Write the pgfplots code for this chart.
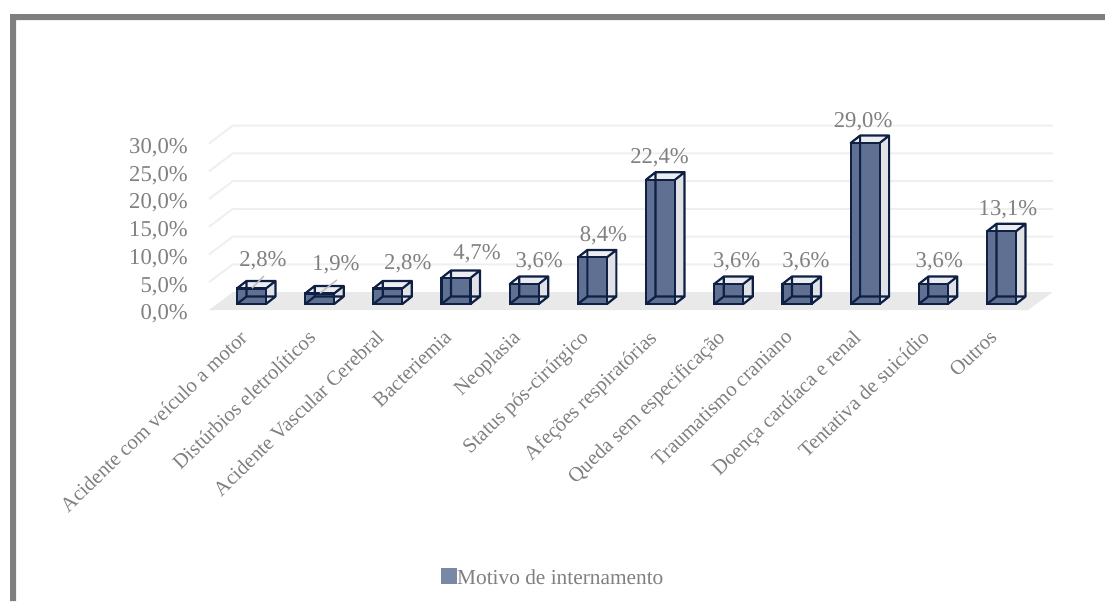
\documentclass[border=0pt]{standalone}
\usepackage{fontspec}
\setmainfont{Liberation Serif}
\usepackage{pgfplots}
\usepackage{pgfplotstable}
\pgfplotsset{compat=1.18}

\newlength{\px}
\setlength{\px}{0.75pt}

\definecolor{framegray}{HTML}{7F7F7F}
\definecolor{lblgray}{HTML}{808080}
\definecolor{gridgray}{HTML}{EFEFEF}
\definecolor{floorgray}{HTML}{E9E9E9}
\definecolor{barface}{HTML}{5F7092}
\definecolor{barside}{HTML}{E0E2E6}
\definecolor{bartop}{HTML}{ECEDF1}
\definecolor{baredge}{HTML}{0F2045}
\definecolor{swatch}{HTML}{7A88A8}
\definecolor{leader}{HTML}{BFBFBF}

% i: category, v: percentage, dx/dy: label offset from the top of the bar
\pgfplotstableread{
i  v     dx    dy
0  2.8   11.5  27.5
1  1.9   16.3  28.5
2  2.8   20    24.5
3  4.7   21    24
4  3.6   15    22
5  8.4   11    22
6  22.4  -1    22
7  3.6   8     22
8  3.6   9     22
9  29.0  -2    21
10 3.6   6     22
11 13.1  6.5   22
}\motivos

% half width, depth and base of a bar in data units
\def\hw{0.2127}
\def\depx{0.1393}
\def\depy{1.351}
\def\base{1.08}

\begin{document}
\begin{tikzpicture}[x=1pt,y=1pt]
\path[use as bounding box] (0,0) rectangle (1105\px,-601\px);
\fill[framegray] (10\px,-601\px) -- (10\px,-14\px) -- (1105\px,-14\px) -- (1105\px,-20\px) -- (16\px,-20\px) -- (16\px,-601\px) -- cycle;
\begin{axis}[
  at={(209\px,-310\px)}, anchor=south west,
  scale only axis, width=819\px, height=166.5\px,
  xmin=-0.623, xmax=11.389, ymin=0, ymax=30,
  clip=false,
  axis line style={draw=none},
  tick style={draw=none},
  major tick length=0pt,
  ytick={0,5,10,15,20,25,30},
  xtick={0,...,11},
  xticklabels={Acidente com veículo a motor,Distúrbios eletrolíticos,Acidente Vascular Cerebral,Bacteriemia,Neoplasia,Status pós-cirúrgico,Afeções respiratórias,Queda sem especificação,Traumatismo craniano,Doença cardíaca e renal,Tentativa de suicídio,Outros},
  /pgf/number format/.cd, assume math mode=true, use comma, fixed, fixed zerofill, precision=1, 1000 sep={},
  /pgfplots/.cd,
  yticklabel={\pgfmathprintnumber{\tick}\%},
  y tick label style={font=\fontsize{17}{20}\selectfont, text=lblgray, anchor=east, xshift=-21\px, yshift=-4\px, inner sep=0pt},
  x tick label style={font=\fontsize{15.5}{19}\selectfont, text=lblgray, rotate=44, anchor=north east, inner sep=0pt, xshift=-22.3\px, yshift=-4.3\px},
  legend style={at={(axis description cs:0.2833,-1.609)}, anchor=west, draw=none, fill=none, inner sep=0pt,
    font=\fontsize{16}{19}\selectfont, text=lblgray, legend cell align=left},
  legend image code/.code={\path (0,0) rectangle (11\px,0);\fill[swatch, overlay] (0,-11\px) rectangle (14\px,3\px);},
  legend columns=1,
]
% floor
\addplot[fill=floorgray, draw=none, forget plot] coordinates {(-0.623,0) (11.389,0) (11.752,3.243) (-0.271,3.243)} -- cycle;
% gridlines on the side and back walls
\pgfplotsinvokeforeach{5,10,...,30}{
  \pgfmathsetmacro{\gy}{#1}
  \pgfmathsetmacro{\gb}{#1+3.243}
  \addplot[gridgray, line width=2\px, forget plot] coordinates {(-0.623,\gy) (-0.271,\gb) (11.752,\gb)};
}
% side and top faces of each bar
\pgfplotsinvokeforeach{0,...,11}{
  \pgfplotstablegetelem{#1}{v}\of\motivos
  \pgfmathsetmacro{\xl}{#1-\hw}
  \pgfmathsetmacro{\xr}{#1+\hw}
  \pgfmathsetmacro{\xbl}{\xl+\depx}
  \pgfmathsetmacro{\xbr}{\xr+\depx}
  \pgfmathsetmacro{\yb}{\base}
  \pgfmathsetmacro{\yt}{\base+\pgfplotsretval}
  \pgfmathsetmacro{\ybb}{\yb+\depy}
  \pgfmathsetmacro{\ytb}{\yt+\depy}
  \addplot[fill=barside, draw=none, forget plot] coordinates {(\xr,\yb) (\xbr,\ybb) (\xbr,\ytb) (\xr,\yt)} -- cycle;
  \addplot[fill=bartop, draw=none, forget plot] coordinates {(\xl,\yt) (\xr,\yt) (\xbr,\ytb) (\xbl,\ytb)} -- cycle;
}
% front faces, with their value labels
\addplot[ybar, bar width=29\px, bar shift=0pt, yshift=6\px, fill=barface, draw=baredge, line width=2.2\px,
  point meta=y,
  visualization depends on={\thisrow{dx} \as \lx},
  visualization depends on={\thisrow{dy} \as \ly},
  nodes near coords={\pgfmathprintnumber{\pgfplotspointmeta}\%},
  every node near coord/.append style={font=\fontsize{17}{20}\selectfont, text=lblgray, anchor=center, inner sep=0pt, xshift=\lx\px, yshift=\ly\px},
] table[x=i, y=v] {\motivos};
\addlegendentry{Motivo de internamento}
% wireframe edges at the back of each bar
\pgfplotsinvokeforeach{0,...,11}{
  \pgfplotstablegetelem{#1}{v}\of\motivos
  \pgfmathsetmacro{\xl}{#1-\hw}
  \pgfmathsetmacro{\xr}{#1+\hw}
  \pgfmathsetmacro{\xbl}{\xl+\depx}
  \pgfmathsetmacro{\xbr}{\xr+\depx}
  \pgfmathsetmacro{\yb}{\base}
  \pgfmathsetmacro{\yt}{\base+\pgfplotsretval}
  \pgfmathsetmacro{\ybb}{\yb+\depy}
  \pgfmathsetmacro{\ytb}{\yt+\depy}
  \addplot[baredge, line width=2.2\px, line join=round, forget plot] coordinates {(\xl,\yb) (\xbl,\ybb) (\xbl,\ytb) (\xl,\yt) (\xbl,\ytb) (\xbr,\ytb) (\xr,\yt) (\xbr,\ytb) (\xbr,\ybb) (\xr,\yb) (\xbr,\ybb) (\xbl,\ybb)};
}
% leader lines of the two labels moved away from their bars
\addplot[leader, line width=1.5\px, forget plot] coordinates {(0.007,3.96) (0.183,6.13)};
\addplot[leader, line width=1.5\px, forget plot] coordinates {(1.005,3.06) (1.254,5.41)};
\end{axis}
\end{tikzpicture}
\end{document}
